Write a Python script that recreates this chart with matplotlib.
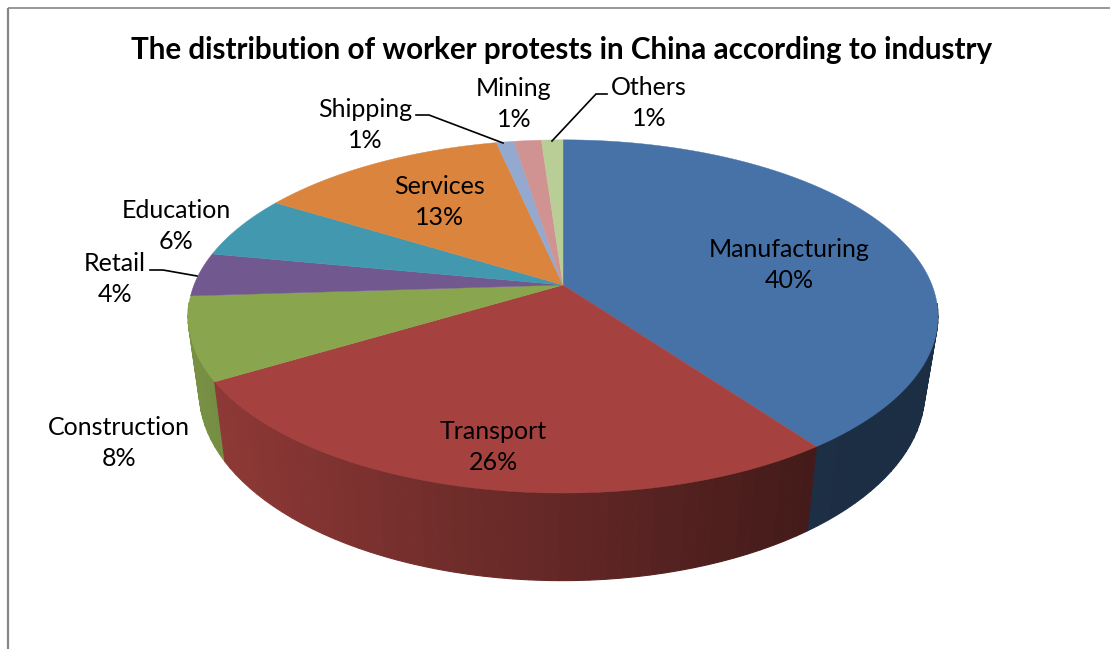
import numpy as np
import matplotlib
matplotlib.use("Agg")
import matplotlib.pyplot as plt
from matplotlib.patches import Polygon
from matplotlib.colors import to_rgb

title = "The distribution of worker protests in China according to industry"
categories = ["Manufacturing", "Transport", "Construction", "Retail", "Education",
              "Services", "Shipping", "Mining", "Others"]
values = [40.0, 26.4, 7.6, 4.0, 5.8, 12.8, 0.9, 1.4, 1.1]
colors = ["#4672A8", "#A5423F", "#89A54E", "#71588F", "#4298AF",
          "#DB843D", "#93A9CF", "#D19392", "#B9CD96"]
label_x = [789, 493, 119, 115, 176, 440, 365, 514, 649]
label_y = [265, 447, 443, 279, 226, 202, 125, 104, 103]

W, H = 1110, 649
fig = plt.figure(figsize=(W / 100, H / 100), dpi=100, facecolor="white")
ax = fig.add_axes([0, 0, 1, 1])
ax.set_xlim(0, W)
ax.set_ylim(H, 0)
ax.axis("off")
plt.rcParams["font.family"] = ["Lato", "DejaVu Sans"]

# frame
ax.plot([8, 8], [H, 8], color="#868686", lw=1.6, solid_capstyle="butt")
ax.plot([8, W], [7.8, 7.8], color="#868686", lw=1.2, solid_capstyle="butt")

# perspective projection of the disc
K = -0.178
CX = 563


def project_top(t):
    u, v = np.sin(t), -np.cos(t)
    d = 1 + K * v
    return CX + 369 * u / d, 285 + 171 * v / d


def project_bottom(t):
    u, v = np.sin(t), -np.cos(t)
    d = 1 + K * v
    return CX - 1 + 357 * u / d, 358 + 183 * v / d


def shade(x):
    return np.interp(x, [200, 808, 930], [0.87, 0.41, 0.40])


fractions = np.array(values) / sum(values)
edges = np.concatenate([[0], np.cumsum(fractions)]) * 2 * np.pi

# side wall: only the front of the disc, painted back to front
quads = []
for a, b, c in zip(edges[:-1], edges[1:], colors):
    n = max(2, int((b - a) / np.radians(2.0)))
    ts = np.linspace(a, b, n + 1)
    base = np.array(to_rgb(c))
    for t0, t1 in zip(ts[:-1], ts[1:]):
        v = -np.cos((t0 + t1) / 2)
        if v > 0.1:
            quads.append((v, t0, t1, base))
quads.sort(key=lambda q: q[0])
for _, t0, t1, base in quads:
    tt = np.linspace(t0, t1, 6)
    xa, ya = project_top(tt)
    xb, yb = project_bottom(tt)
    pts = np.column_stack([np.r_[xa, xb[::-1]], np.r_[ya, yb[::-1]]])
    col = tuple(base * shade(xa.mean()))
    ax.add_patch(Polygon(pts, closed=True, facecolor=col, edgecolor=col, lw=0.8, zorder=2))

# top surface
for a, b, c in zip(edges[:-1], edges[1:], colors):
    ts = np.linspace(a, b, 200)
    xs, ys = project_top(ts)
    pts = np.column_stack([np.r_[CX, xs], np.r_[285, ys]])
    ax.add_patch(Polygon(pts, closed=True, facecolor=c, edgecolor=c, lw=0.3, zorder=3))

# leader lines
leaders = [([416, 429, 503], [115, 115, 143]),
           ([607, 596, 552], [94, 94, 141]),
           ([150, 163, 197], [270, 270, 276])]
for lx, ly in leaders:
    ax.plot(lx, ly, color="black", lw=1.2, zorder=4, solid_joinstyle="miter")

# labels
for name, val, x, y in zip(categories, values, label_x, label_y):
    ax.text(x, y, f"{name}\n{val:.0f}%", ha="center", va="center", fontsize=18,
            color="black", linespacing=1.46, zorder=5)

ax.text(561.5, 50, title, ha="center", va="center", fontsize=21.3,
        fontweight="bold", color="black", zorder=5)

fig.savefig("out.png", dpi=100, facecolor="white")
